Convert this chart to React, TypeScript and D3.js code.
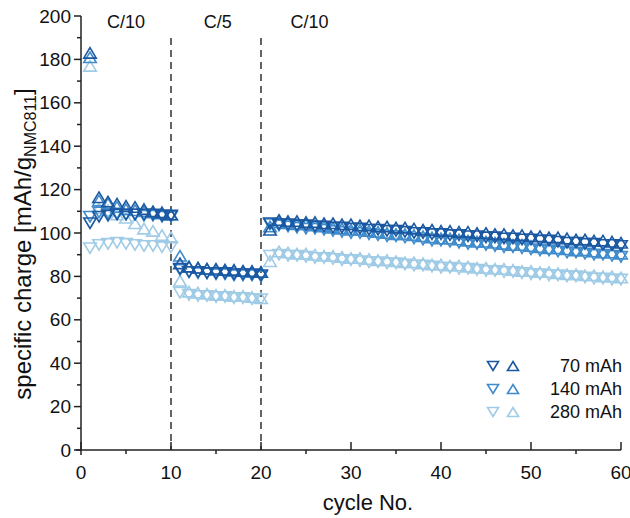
import React from "react";
import * as d3 from "d3";

// Cycle numbers
const cycles: number[] = d3.range(1, 61);

// Specific charge per cycle [mAh/g NMC811]; "up" = △ marker, "down" = ▽ marker
const up70: number[] = [
  183,
  116.5, 114.5, 113.5, 112.5, 112, 111, 110, 109.5, 108.5,
  86, 84.5, 84, 83.5, 83.5, 83, 83, 82.5, 82.5, 82,
  101.5, 106, 105.5, 105.5, 105, 105, 104.5, 104.5, 104, 104,
  103.5, 103.5, 103, 103, 102.5, 102.5, 102, 101.5, 101.5, 101,
  101, 100.5, 100.5, 100, 100, 99.5, 99.5, 99, 99, 98.5,
  98.5, 98, 98, 97.5, 97, 97, 96.5, 96.5, 96, 95.5,
];
const down70: number[] = [
  104.5,
  107.5, 108, 108.5, 108.5, 108.5, 108.5, 108.5, 108, 108,
  83.5, 82, 82, 81.5, 81.5, 81.5, 81, 81, 81, 80.5,
  104.5, 104, 104, 103.5, 103.5, 103, 103, 102.5, 102.5, 102,
  102, 101.5, 101.5, 101, 101, 100.5, 100, 100, 99.5, 99.5,
  99, 99, 98.5, 98.5, 98, 98, 97.5, 97.5, 97, 97,
  96.5, 96.5, 96, 95.5, 95.5, 95, 95, 94.5, 94.5, 94,
];
const up140: number[] = [
  181,
  115, 113.5, 112, 111, 110.5, 110, 109.5, 109, 108.5,
  89.5, 84.5, 84, 83.5, 83, 83, 82.5, 82.5, 82, 82,
  103, 105, 104.5, 104, 104, 103.5, 103, 102.5, 102, 101.5,
  101.5, 101, 100.5, 100, 99.5, 99.5, 99, 98.5, 98, 97.5,
  97.5, 97, 96.5, 96, 96, 95.5, 95, 94.5, 94.5, 94,
  93.5, 93, 93, 92.5, 92, 92, 91.5, 91, 91, 90.5,
];
const down140: number[] = [
  107.5,
  109.5, 109, 109, 108.5, 108.5, 108, 108, 107.5, 107.5,
  83, 82, 81.5, 81.5, 81, 81, 80.5, 80.5, 80.5, 80,
  104, 103.5, 103, 102.5, 102, 102, 101.5, 101, 100.5, 100,
  100, 99.5, 99, 98.5, 98.5, 98, 97.5, 97, 96.5, 96.5,
  96, 95.5, 95, 95, 94.5, 94, 93.5, 93.5, 93, 92.5,
  92, 92, 91.5, 91, 91, 90.5, 90, 90, 89.5, 89,
];
const up280: number[] = [
  177,
  111.5, 110.5, 108.5, 107, 104.5, 102, 101, 99, 98,
  78, 73, 72.5, 72, 71.5, 71.5, 71, 71, 70.5, 70,
  87, 91.5, 91, 90.5, 90.5, 90, 89.5, 89.5, 89, 88.5,
  88.5, 88, 87.5, 87.5, 87, 86.5, 86.5, 86, 85.5, 85.5,
  85, 85, 84.5, 84, 84, 83.5, 83.5, 83, 82.5, 82.5,
  82, 82, 81.5, 81, 81, 80.5, 80.5, 80, 80, 79.5,
];
const down280: number[] = [
  93,
  94.5, 95, 95.5, 95, 94.5, 94, 94, 93.5, 93.5,
  72.5, 71.5, 71, 71, 70.5, 70.5, 70, 70, 69.5, 69.5,
  89.5, 90, 89.5, 89.5, 89, 88.5, 88.5, 88, 87.5, 87.5,
  87, 86.5, 86.5, 86, 86, 85.5, 85, 85, 84.5, 84,
  84, 83.5, 83.5, 83, 82.5, 82.5, 82, 82, 81.5, 81,
  81, 80.5, 80.5, 80, 80, 79.5, 79, 79, 78.5, 78.5,
];

const seriesLabels: string[] = ["70 mAh", "140 mAh", "280 mAh"];
const seriesColors: string[] = ["#1b58a2", "#3f8bcb", "#9fcbe6"];

const rateLabels: string[] = ["C/10", "C/5", "C/10"];
const rateLabelCycles: number[] = [5, 15.2, 25.4];
const rateBoundaries: number[] = [10, 20];

const xMajorTicks: number[] = [0, 10, 20, 30, 40, 50, 60];
const xMinorTicks: number[] = [5, 15, 25, 35, 45, 55];
const yMajorTicks: number[] = [0, 20, 40, 60, 80, 100, 120, 140, 160, 180, 200];
const yMinorTicks: number[] = [10, 30, 50, 70, 90, 110, 130, 150, 170, 190];

const FONT = "'Liberation Sans', Arial, Helvetica, sans-serif";

function triPath(dir: "up" | "down", w: number, h: number): string {
  const s = dir === "up" ? 1 : -1;
  return `M0,${-s * h / 2}L${w / 2},${s * h / 2}L${-w / 2},${s * h / 2}Z`;
}

export default function App() {
  const width = 630;
  const height = 518;
  const x = d3.scaleLinear().domain([0, 60]).range([81, 621]);
  const y = d3.scaleLinear().domain([0, 200]).range([450, 16]);

  const groups = [
    { up: up70, down: down70, color: seriesColors[0] },
    { up: up140, down: down140, color: seriesColors[1] },
    { up: up280, down: down280, color: seriesColors[2] },
  ];
  // draw the highest rate first so the 70 mAh cell sits on top
  const drawOrder = [2, 1, 0];

  const mw = 12.5;
  const mh = 10.5;
  const axisColor = "#222";

  return (
    <svg
      width={width}
      height={height}
      style={{ position: "absolute", left: 0, top: 0, background: "#fff" }}
      fontFamily={FONT}
    >
      <rect width={width} height={height} fill="#fff" />

      {/* rate boundaries */}
      {rateBoundaries.map((c) => (
        <line
          key={"b" + c}
          x1={x(c)}
          x2={x(c)}
          y1={38}
          y2={y(0)}
          stroke="#111"
          strokeWidth={1.3}
          strokeDasharray="7,5"
        />
      ))}
      {rateLabels.map((t, i) => (
        <text
          key={"r" + i}
          x={x(rateLabelCycles[i])}
          y={28}
          fontSize={18}
          textAnchor="middle"
          fill="#111"
        >
          {t}
        </text>
      ))}

      {/* data markers */}
      {drawOrder.map((gi) => {
        const g = groups[gi];
        return (
          <g key={"s" + gi} fill="none" stroke={g.color} strokeWidth={1.6}>
            {cycles.map((c, i) => (
              <path
                key={"d" + i}
                d={triPath("down", mw, mh)}
                transform={`translate(${x(c)},${y(g.down[i])})`}
              />
            ))}
            {cycles.map((c, i) => (
              <path
                key={"u" + i}
                d={triPath("up", mw, mh)}
                transform={`translate(${x(c)},${y(g.up[i])})`}
              />
            ))}
          </g>
        );
      })}

      {/* axes */}
      <line x1={x(0)} x2={x(0)} y1={y(200)} y2={y(0) + 5} stroke={axisColor} strokeWidth={1.5} />
      <line x1={x(0) - 5} x2={x(60)} y1={y(0)} y2={y(0)} stroke={axisColor} strokeWidth={1.5} />

      {yMajorTicks.map((v) => (
        <g key={"ym" + v}>
          <line x1={x(0) - 7} x2={x(0)} y1={y(v)} y2={y(v)} stroke={axisColor} strokeWidth={1.5} />
          <text
            x={x(0) - 10}
            y={y(v)}
            fontSize={19}
            textAnchor="end"
            dominantBaseline="central"
            fill="#111"
          >
            {v}
          </text>
        </g>
      ))}
      {yMinorTicks.map((v) => (
        <line key={"yn" + v} x1={x(0) - 4} x2={x(0)} y1={y(v)} y2={y(v)} stroke={axisColor} strokeWidth={1.5} />
      ))}
      {xMajorTicks.map((v) => (
        <g key={"xm" + v}>
          <line x1={x(v)} x2={x(v)} y1={y(0)} y2={y(0) - 8} stroke={axisColor} strokeWidth={1.5} />
          <text x={x(v)} y={479} fontSize={19} textAnchor="middle" fill="#111">
            {v}
          </text>
        </g>
      ))}
      {xMinorTicks.map((v) => (
        <line key={"xn" + v} x1={x(v)} x2={x(v)} y1={y(0)} y2={y(0) + 4} stroke={axisColor} strokeWidth={1.5} />
      ))}

      {/* axis titles */}
      <text x={368} y={510} fontSize={22} textAnchor="middle" fill="#111">
        cycle No.
      </text>
      <text
        transform="translate(31,244) rotate(-90)"
        fontSize={24}
        textAnchor="middle"
        fill="#111"
      >
        specific charge [mAh/g
        <tspan fontSize={16} dy={5}>NMC811</tspan>
        <tspan dy={-5}>]</tspan>
      </text>

      {/* legend */}
      {seriesLabels.map((t, i) => {
        const ly = 366 + i * 23;
        return (
          <g key={"l" + i}>
            <path
              d={triPath("down", 11, 9)}
              transform={`translate(493,${ly})`}
              fill="none"
              stroke={seriesColors[i]}
              strokeWidth={1.6}
            />
            <path
              d={triPath("up", 11, 9)}
              transform={`translate(513,${ly})`}
              fill="none"
              stroke={seriesColors[i]}
              strokeWidth={1.6}
            />
            <text x={622} y={ly} fontSize={18} textAnchor="end" dominantBaseline="central" fill="#111">
              {t}
            </text>
          </g>
        );
      })}
    </svg>
  );
}
